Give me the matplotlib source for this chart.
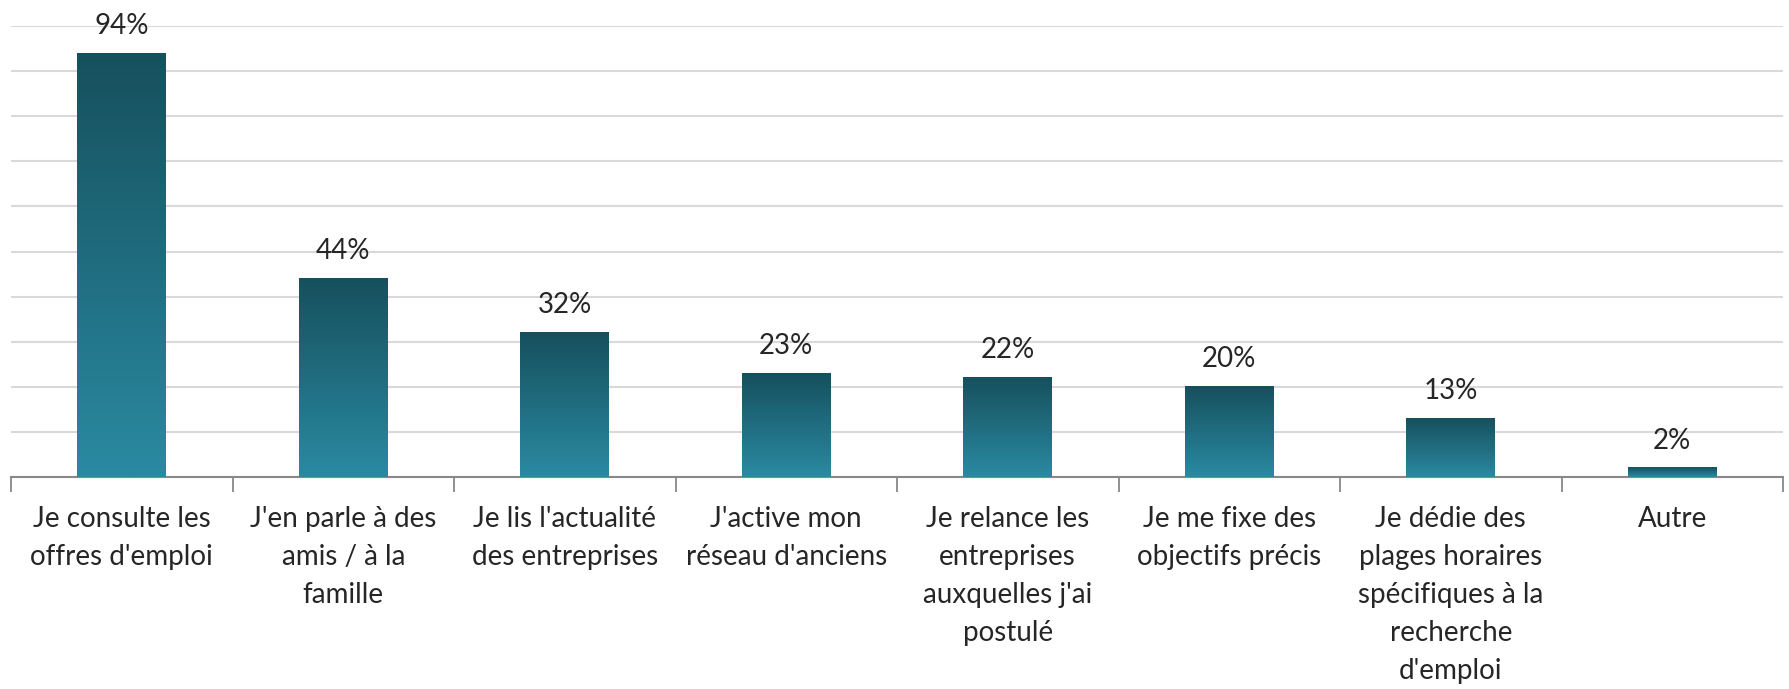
import numpy as np
import matplotlib
matplotlib.use("Agg")
import matplotlib.pyplot as plt
from matplotlib.colors import LinearSegmentedColormap

categories = [
    "Je consulte les\noffres d'emploi",
    "J'en parle à des\namis / à la\nfamille",
    "Je lis l'actualité\ndes entreprises",
    "J'active mon\nréseau d'anciens",
    "Je relance les\nentreprises\nauxquelles j'ai\npostulé",
    "Je me fixe des\nobjectifs précis",
    "Je dédie des\nplages horaires\nspécifiques à la\nrecherche\nd'emploi",
    "Autre",
]
values = [94, 44, 32, 23, 22, 20, 13, 2]
value_labels = ["94%", "44%", "32%", "23%", "22%", "20%", "13%", "2%"]

plt.rcParams['font.family'] = ['Lato', 'DejaVu Sans']

W, H = 1789, 689
fig = plt.figure(figsize=(W / 100, H / 100), dpi=100)
ax = fig.add_axes([11 / W, (H - 477) / H, (1783 - 11) / W, (477 - 26) / H])

cmap = LinearSegmentedColormap.from_list("g", ["#2A8AA2", "#16505D"])
grad = np.linspace(0, 1, 256).reshape(-1, 1)
bw = 0.40
x = np.arange(len(categories))
for xi, v, lab in zip(x, values, value_labels):
    ax.imshow(grad, extent=(xi - bw / 2, xi + bw / 2, 0, v), origin="lower",
              aspect="auto", cmap=cmap, zorder=3, interpolation="bilinear")
    ax.text(xi, v + 3.2, lab, ha="center", va="bottom", fontsize=20,
            color="#262626", zorder=4)

ax.set_xlim(-0.5, len(categories) - 0.5)
ax.set_ylim(0, 100)
ax.set_yticks(np.arange(0, 101, 10))
ax.yaxis.grid(True, color="#D9D9D9", linewidth=1.5, zorder=0)
ax.set_axisbelow(True)
ax.tick_params(axis="y", left=False, labelleft=False)

ax.set_xticks(x)
ax.set_xticklabels(categories, fontsize=20, color="#262626", linespacing=1.57)
ax.tick_params(axis="x", which="major", length=0, pad=21)
ax.set_xticks(np.arange(-0.5, len(categories)), minor=True)
ax.tick_params(axis="x", which="minor", length=11, width=1.3, color="#888888")

for s in ["left", "right", "top"]:
    ax.spines[s].set_visible(False)
ax.spines["bottom"].set_color("#888888")
ax.spines["bottom"].set_linewidth(1.5)

fig.savefig("out.png", dpi=100, facecolor="white")
